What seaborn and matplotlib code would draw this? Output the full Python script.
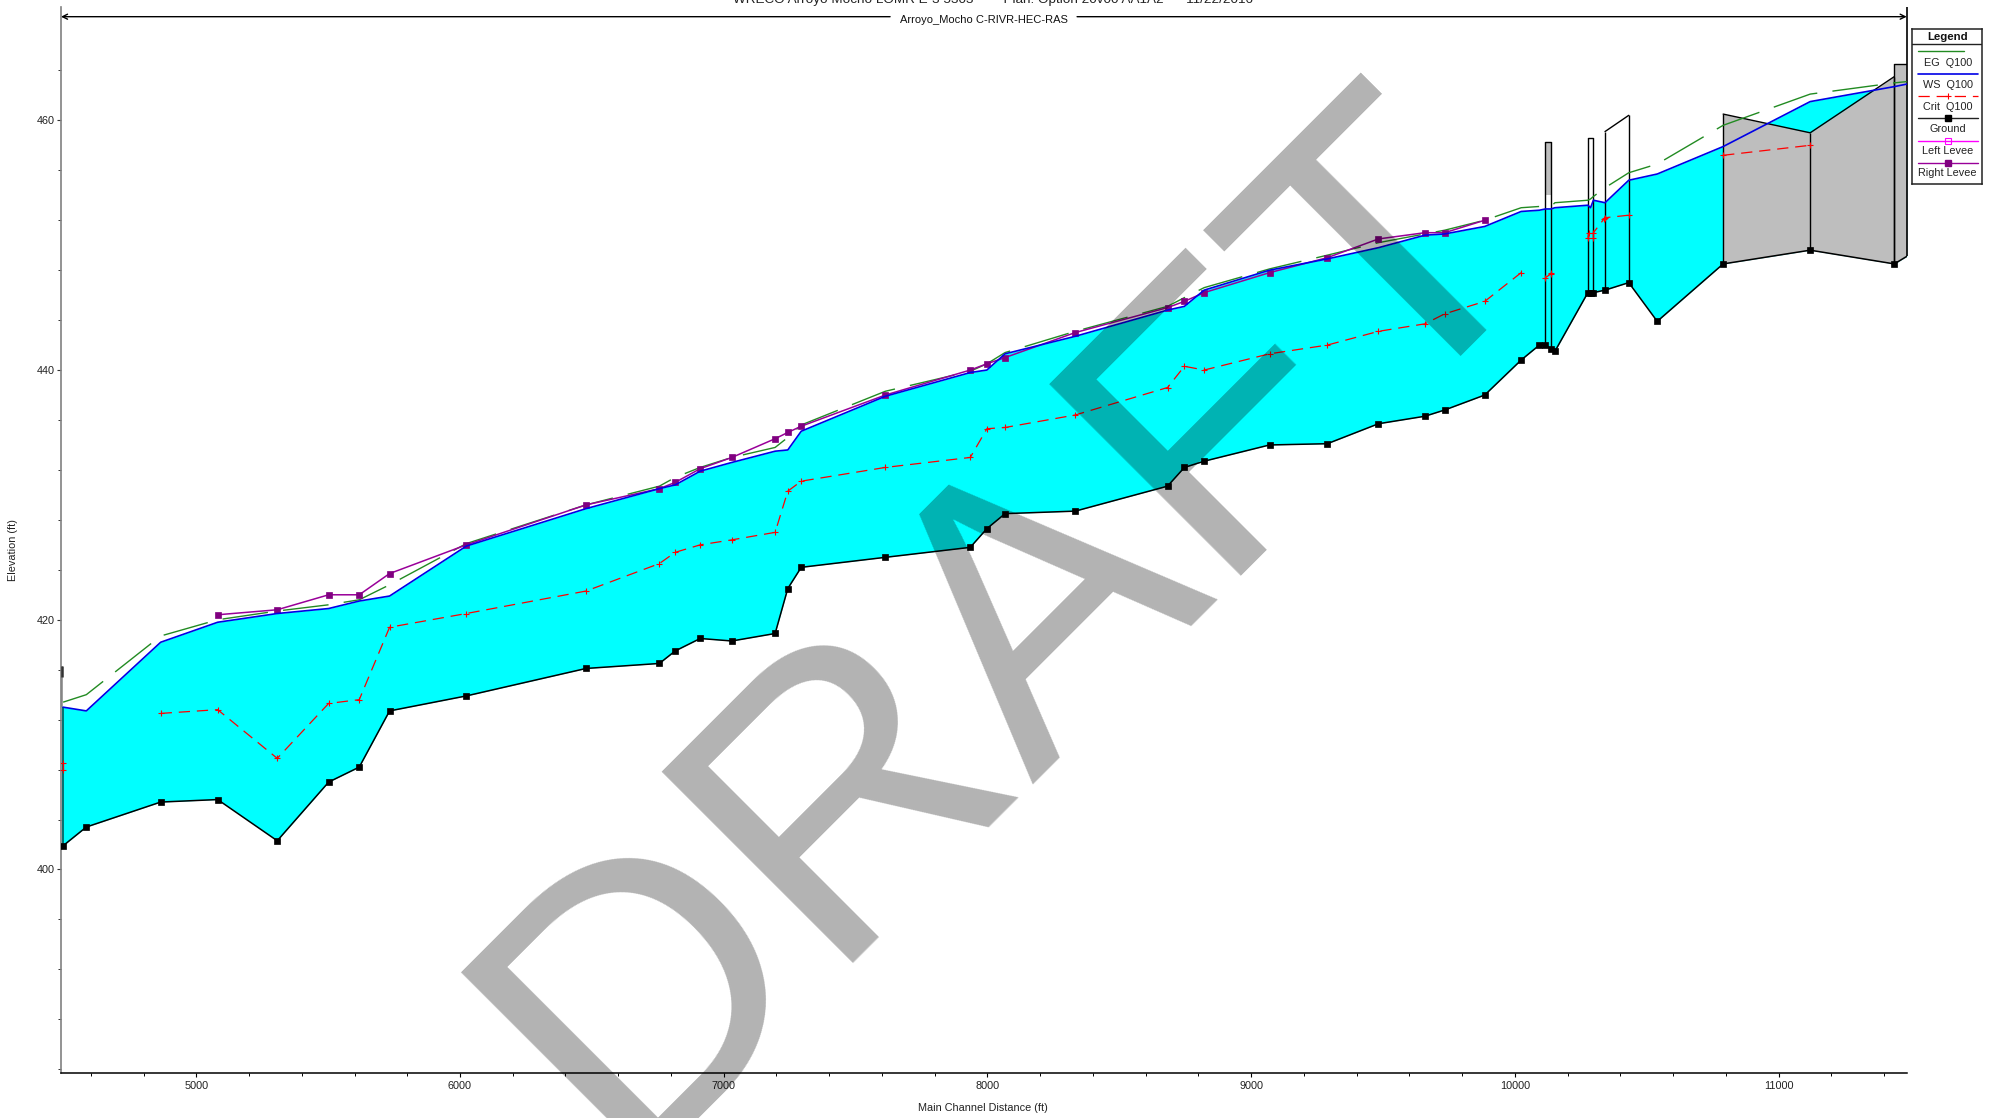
import numpy as np
import pandas as pd
import matplotlib
matplotlib.use("Agg")
import matplotlib.pyplot as plt
import seaborn as sns
from matplotlib.ticker import MultipleLocator, FixedLocator

# ---------- data ----------
stations = [4495, 4583, 4865, 5081, 5307, 5502, 5618, 5733, 6024, 6478, 6756, 6816, 6911, 7031, 7195,
            7243, 7294, 7613, 7935, 7998, 8067, 8333, 8683, 8747, 8822, 9070, 9289, 9483, 9659, 9734,
            9886, 10024, 10093, 10116, 10137, 10152, 10277, 10287, 10298, 10342, 10432, 10540, 10790,
            11120, 11439, 11486]
ground = [401.9, 403.4, 405.4, 405.6, 402.3, 407.0, 408.2, 412.7, 413.9, 416.1, 416.5, 417.5, 418.5, 418.3, 418.9,
          422.5, 424.2, 425.0, 425.8, 427.3, 428.5, 428.7, 430.7, 432.2, 432.7, 434.0, 434.1, 435.7, 436.3, 436.8,
          438.0, 440.8, 442.0, 442.0, 441.7, 441.5, 446.2, 446.2, 446.2, 446.4, 447.0, 443.9, 448.5,
          449.6, 448.5, 449.1]
ws_q100 = [413.0, 412.7, 418.2, 419.8, 420.5, 420.9, 421.5, 421.9, 425.9, 428.9, 430.5, 430.8, 431.9, 432.6, 433.5,
           433.6, 435.1, 437.9, 439.8, 440.0, 441.3, 442.7, 444.8, 445.1, 446.4, 448.0, 448.9, 449.8, 450.8, 450.9,
           451.5, 452.7, 452.8, 452.9, 452.9, 453.0, 453.2, 453.0, 453.6, 453.4, 455.2, 455.7, 457.9,
           461.5, 462.7, 462.9]
eg_q100 = [413.4, 414.0, 418.7, 420.0, 420.7, 421.2, 421.6, 422.8, 426.1, 429.2, 430.7, 431.4, 432.2, 433.0, 433.8,
           434.6, 435.6, 438.3, 439.9, 440.5, 441.4, 443.1, 445.1, 445.8, 446.6, 448.1, 449.2, 450.2, 450.9, 451.2,
           452.0, 453.0, 453.1, 453.1, 453.1, 453.4, 453.6, 453.7, 453.9, 454.6, 455.8, 456.5, 459.6,
           462.1, 463.0, 463.1]
crit_x = [4495, 4495, np.nan,
          4865, 5081, 5307, 5502, 5618, 5733, 6024, 6478, 6756, 6816, 6911, 7031, 7195, 7243, 7294, 7613, 7935,
          7998, 8067, 8333, 8683, 8747, 8822, 9070, 9289, 9483, 9659, 9734, 9886, 10024, np.nan,
          10116, 10137, 10137, np.nan,
          10277, 10281, np.nan,
          10298, 10298, 10338, 10342, 10432, np.nan,
          10790, 11120]
crit_y = [408.5, 408.0, np.nan,
          412.5, 412.8, 408.9, 413.3, 413.6, 419.4, 420.5, 422.3, 424.5, 425.4, 426.0, 426.4, 427.0, 430.3, 431.1, 432.2, 433.0,
          435.3, 435.4, 436.4, 438.6, 440.3, 440.0, 441.3, 442.0, 443.1, 443.7, 444.5, 445.5, 447.8, np.nan,
          447.4, 447.7, 447.8, np.nan,
          450.6, 451.0, np.nan,
          450.6, 451.0, 452.1, 452.2, 452.4, np.nan,
          457.2, 458.0]
levee_x = [5081, 5307, 5502, 5618, 5733, 6024, 6478, 6756, 6816, 6911, 7031, 7195, 7243, 7294, 7613, 7935,
           7998, 8067, 8333, 8683, 8747, 8822, 9070, 9289, 9483, 9659, 9734, 9886]
right_levee = [420.4, 420.8, 422.0, 422.0, 423.7, 426.0, 429.2, 430.5, 431.0, 432.1, 433.0, 434.5, 435.0, 435.5, 438.0, 440.0,
               440.5, 441.0, 443.0, 445.0, 445.5, 446.2, 447.8, 449.0, 450.5, 451.0, 451.0, 452.0]

# bridge / culvert structures
stub_x = [4487, 4495]
stub_top = [416.3, 416.3]
stub_bottom = [413.0, 413.0]
bridge1_x = [10116, 10137]
bridge1_top = [458.3, 458.3]
bridge1_low = [454.0, 454.0]
bridge2_x = [10277, 10298]
bridge2_top = [458.6, 458.6]
bridge3_x = [10342, 10432]
bridge3_top = [459.1, 460.4]
deck_x = [10790, 11120, 11439]
deck_top = [460.5, 459.0, 463.5]
deck_bottom = [448.5, 449.6, 448.5]
end_x = [11439, 11486]
end_top = [464.5, 464.5]
end_bottom = [448.5, 449.1]

x_major = [5000, 6000, 7000, 8000, 9000, 10000, 11000]
y_major = [400, 420, 440, 460]
legend_labels = ["EG  Q100", "WS  Q100", "Crit  Q100", "Ground", "Left Levee", "Right Levee"]
river_label = "Arroyo_Mocho C-RIVR-HEC-RAS"
title_text = "WRECO Arroyo Mocho LOMR E-3 5303        Plan: Option 20v00 AA1A2      11/22/2016"

# ---------- style ----------
sns.set_style("white")
plt.rcParams["font.family"] = ["Liberation Sans", "DejaVu Sans"]
CYAN = "#00FFFF"
GREEN = "#228B22"
BLUE = "#0000E6"
RED = "#FF0000"
PURPLE = "#990099"
PURPLE_M = "#800080"
MAGENTA = "#FF00FF"
GRAY = "#BEBEBE"
FS = 7.8

W, H = 2007, 1118
fig = plt.figure(figsize=(W / 100, H / 100), dpi=100, facecolor="white")
ax = fig.add_axes([61 / W, 1 - 1073 / H, (1906.7 - 61) / W, (1073 - 6.7) / H])
ax.set_facecolor("white")


def draw(x, y, **kw):
    """Draw a series through seaborn, one call per unbroken run so gaps stay gaps."""
    df = pd.DataFrame({"x": x, "y": y})
    run = df["y"].isna().cumsum()
    for _, part in df[df["y"].notna()].groupby(run):
        sns.lineplot(data=part, x="x", y="y", estimator=None, sort=False,
                     legend=False, ax=ax, **kw)


# water surface fill and structures
ax.fill_between(stations, ground, ws_q100, color=CYAN, lw=0, zorder=1)
ax.fill_between(deck_x, deck_bottom, deck_top, color=GRAY, lw=0, zorder=2)
ax.fill_between(end_x, end_bottom, end_top, color=GRAY, lw=0, zorder=2)
ax.fill_between(bridge1_x, bridge1_low, bridge1_top, color=GRAY, lw=0, zorder=2)
ax.fill_between(stub_x, stub_bottom, stub_top, color="#A0A0A0", lw=0, zorder=2)
ax.vlines(4491, 415.4, 416.3, colors="#333333", lw=1.8, zorder=3)

elev = dict(zip(stations, ground))
line_kw = dict(color="black", lw=1.0, zorder=3, clip_on=False)
ax.vlines(bridge1_x, [elev[s] for s in bridge1_x], bridge1_top, **line_kw)
ax.vlines(bridge2_x, [elev[s] for s in bridge2_x], bridge2_top, **line_kw)
ax.vlines(bridge3_x, [elev[s] for s in bridge3_x], bridge3_top, **line_kw)
ax.vlines(deck_x, deck_bottom, deck_top, **line_kw)
ax.vlines(end_x[0], end_bottom[0], end_top[0], **line_kw)
ax.vlines(end_x[1], end_bottom[1], 469.1, colors="black", lw=1.2, zorder=3, clip_on=False)
ax.vlines(4495, 402.0, 413.0, colors="#007070", lw=1.4, zorder=3)
for sx, st in [(bridge1_x, bridge1_top), (bridge2_x, bridge2_top), (bridge3_x, bridge3_top),
               (deck_x, deck_top), (end_x, end_top)]:
    ax.plot(sx, st, color="black", lw=1.0, zorder=3)

draw(stations, eg_q100, color=GREEN, lw=1.0, linestyle=(0, (33, 11)), zorder=4)
draw(levee_x, right_levee, color=PURPLE, lw=1.1, marker="s", markersize=4.0,
     markerfacecolor=PURPLE_M, markeredgecolor=PURPLE_M, markeredgewidth=0.5, zorder=5)
draw(stations, ws_q100, color=BLUE, lw=1.2, zorder=6)
draw(crit_x, crit_y, color=RED, lw=0.9, linestyle=(0, (9, 5.5)), marker="+", markersize=5,
     markeredgecolor=RED, markeredgewidth=0.8, zorder=7)
draw(stations, ground, color="black", lw=1.1, marker="s", markersize=3.8,
     markevery=list(range(len(stations) - 1)),
     markerfacecolor="black", markeredgecolor="black", markeredgewidth=0.5, zorder=8)

# river reach arrow with label
arrow = dict(arrowstyle="->", color="black", lw=1.0, shrinkA=0, shrinkB=0, mutation_scale=9)
ax.annotate("", xy=(4487, 468.3), xytext=(7631, 468.3), arrowprops=arrow, annotation_clip=False)
ax.annotate("", xy=(11486, 468.3), xytext=(8340, 468.3), arrowprops=arrow, annotation_clip=False)
ax.text(7985, 468.0, river_label, ha="center", va="center", fontsize=8.0, color="#111111")

# axes
ax.set_xlim(4487, 11486)
ax.set_ylim(383.7, 469.1)
ax.xaxis.set_major_locator(FixedLocator(x_major))
ax.xaxis.set_minor_locator(MultipleLocator(200))
ax.yaxis.set_major_locator(FixedLocator(y_major))
ax.yaxis.set_minor_locator(FixedLocator(np.arange(384, 465, 4)))
ax.tick_params(axis="x", which="major", bottom=True, length=3.2, width=0.8, pad=2.5,
               labelsize=FS, labelcolor="#222222", color="black")
ax.tick_params(axis="x", which="minor", bottom=True, length=2.4, width=0.7, color="black")
ax.tick_params(axis="y", which="major", left=True, length=3.2, width=0.8, pad=1,
               labelsize=FS, labelcolor="#222222", color="#333333")
ax.tick_params(axis="y", which="minor", left=True, length=2.2, width=0.7, color="#333333")
ax.grid(False)
for side in ("top", "right"):
    ax.spines[side].set_visible(False)
ax.spines["left"].set_color("#808080")
ax.spines["left"].set_linewidth(1.2)
ax.spines["bottom"].set_color("black")
ax.spines["bottom"].set_linewidth(1.1)
ax.set_xlabel("")
ax.set_ylabel("")
fig.text(983 / W, 1 - 1108 / H, "Main Channel Distance (ft)", ha="center", va="center", fontsize=FS, color="#222222")
fig.text(13 / W, 1 - 550 / H, "Elevation (ft)", ha="center", va="center", rotation=90, fontsize=FS, color="#222222")
fig.text(993 / W, 1 - 3.5 / H, title_text, ha="center", va="baseline", fontsize=9.7, color="#222222")

# hand-laid legend box: sample line above each label, as in the reference
lg = fig.add_axes([1912 / W, 1 - 184 / H, 70 / W, 155 / H], zorder=5)
lg.set_xlim(1912, 1982)
lg.set_ylim(184, 29)
lg.set_xticks([])
lg.set_yticks([])
lg.set_facecolor("white")
for s in lg.spines.values():
    s.set_color("#222222")
    s.set_linewidth(1.1)
    s.set_visible(True)
lg.axhline(44, color="#222222", lw=1.0)
lg.text(1947.7, 36.5, "Legend", ha="center", va="center", fontsize=8.2, fontweight="bold", color="#111111")
sample_y = [50.7, 74, 96, 118, 141, 163]
label_y = [62.5, 84.5, 106.5, 129.5, 151.5, 173.5]
cx = 1947.7
lg.plot([1918, 1964], [sample_y[0]] * 2, color=GREEN, lw=1.0)
lg.plot([1918, 1977.5], [sample_y[1]] * 2, color=BLUE, lw=1.2)
lg.plot([1918, 1977.5], [sample_y[2]] * 2, color=RED, lw=0.9, linestyle=(0, (9, 5.5)))
lg.plot([cx], [sample_y[2]], color=RED, marker="+", markersize=5, markeredgewidth=0.8)
lg.plot([1918, 1977.5], [sample_y[3]] * 2, color="#222222", lw=1.0)
lg.plot([cx], [sample_y[3]], color="black", marker="s", markersize=3.8)
lg.plot([1918, 1977.5], [sample_y[4]] * 2, color=MAGENTA, lw=1.0)
lg.plot([cx], [sample_y[4]], marker="s", markersize=3.8, markerfacecolor="none", markeredgecolor=MAGENTA, markeredgewidth=0.8)
lg.plot([1918, 1977.5], [sample_y[5]] * 2, color=PURPLE, lw=1.0)
lg.plot([cx], [sample_y[5]], color=PURPLE_M, marker="s", markersize=3.8)
for lab, ly in zip(legend_labels, label_y):
    lg.text(cx, ly, lab, ha="center", va="center", fontsize=FS, color="#222222")

# DRAFT watermark, blended over everything
fig.text(620 / W, 1 - 1164 / H, "DRAFT", rotation=45, rotation_mode="anchor",
         ha="left", va="baseline", fontsize=284, color="black", alpha=0.30, zorder=10)

fig.savefig("out.png", dpi=100, facecolor="white")
